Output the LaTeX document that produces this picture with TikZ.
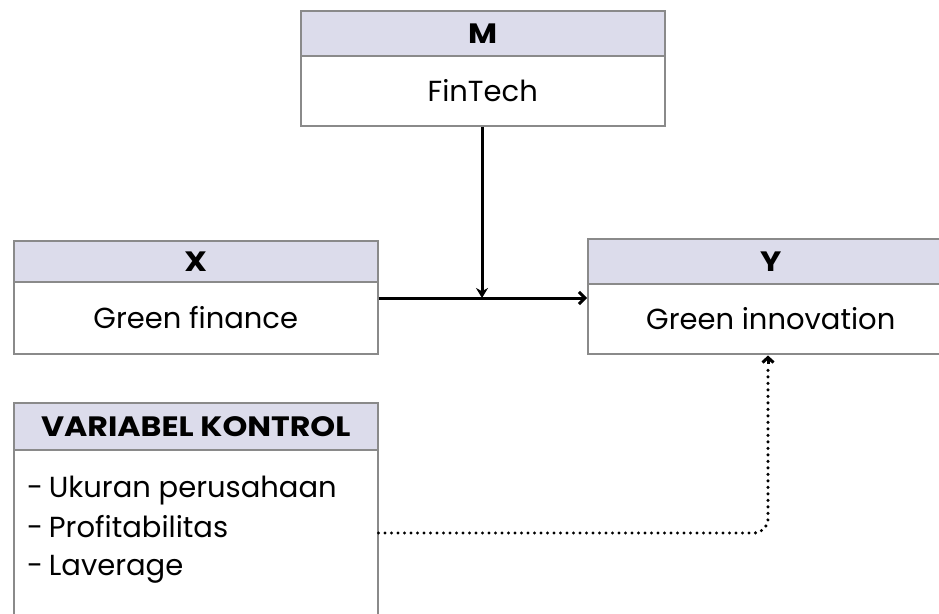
\documentclass[tikz,border=0pt]{standalone}
\usepackage{fontspec}
\setmainfont{Poppins}
\newfontfamily\hdrfont[FakeStretch=1.13]{Poppins Bold}
\usetikzlibrary{arrows.meta}
\definecolor{hdr}{HTML}{DCDCEB}
\definecolor{brd}{HTML}{8A8A8A}
\tikzset{
  hbox/.style={draw=brd, line width=1.5pt, fill=hdr, anchor=north west, inner sep=0pt, font=\fontsize{28}{32}\hdrfont},
  bbox/.style={draw=brd, line width=1.5pt, fill=white, anchor=north west, inner sep=0pt, font=\fontsize{29}{34}\selectfont},
  ltxt/.style={anchor=base west, inner sep=0pt, font=\fontsize{29}{34}\selectfont},
  conn/.style={line width=3pt, black},
  dotconn/.style={line width=3.4pt, black, line cap=round, dash pattern=on 0pt off 6.5pt}
}
\begin{document}
\begin{tikzpicture}[x=1pt,y=-1pt]
\useasboundingbox (0,0) rectangle (939,613);
\clip (0,0) rectangle (939,613);
% M
\node[hbox, minimum width=364pt, minimum height=45pt] (mh) at (300,10) {M};
\node[bbox, minimum width=364pt, minimum height=70pt] (mb) at (300,55) {FinTech};
% X
\node[hbox, minimum width=364pt, minimum height=41pt] (xh) at (13,240) {X};
\node[bbox, minimum width=364pt, minimum height=72pt] (xb) at (13,281) {Green finance};
% Y
\node[hbox, minimum width=366pt, minimum height=45pt] (yh) at (587,238) {Y};
\node[bbox, minimum width=366pt, minimum height=70pt] (yb) at (587,283) {Green innovation};
% Variabel kontrol
\node[hbox, minimum width=364pt, minimum height=47pt] (vh) at (13,402) {VARIABEL KONTROL};
\node[bbox, minimum width=364pt, minimum height=180pt] (vb) at (13,449) {};
\node[ltxt] (l1) at (27,497) {-\hspace{-2pt} Ukuran perusahaan};
\node[ltxt] (l2) at (27,537) {-\hspace{-2pt} Profitabilitas};
\node[ltxt] (l3) at (27,575) {-\hspace{-2pt} Laverage};
% connectors
\coordinate (j) at (482,298);
\coordinate (c) at (768,533);
\draw[conn, -{Straight Barb[length=6pt,width=12pt]}] (xb.east |- j) -- (yb.west |- j);
\draw[conn, -{Stealth[length=10pt,width=12pt]}] (mb.south -| j) -- (j);
\draw[dotconn, rounded corners=14pt] (vb.east |- c) -- (c) -- ([yshift=-10pt]yb.south -| c);
\draw[conn, -{Straight Barb[length=5pt,width=11pt]}] ([yshift=-9pt]yb.south -| c) -- ([yshift=-1pt]yb.south -| c);
\end{tikzpicture}
\end{document}
